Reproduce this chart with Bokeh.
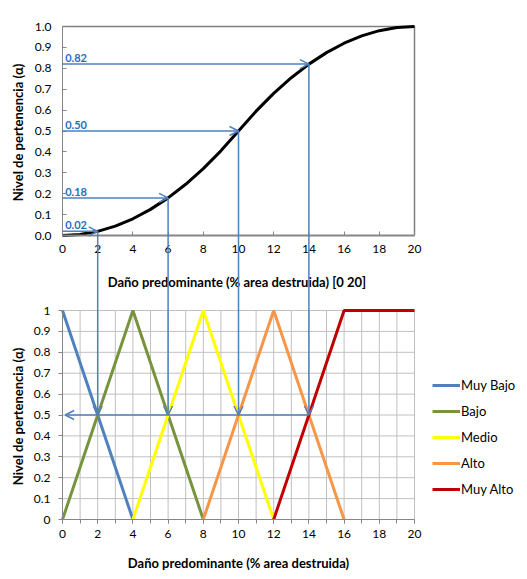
import math
from bokeh.plotting import figure
from bokeh.models import (Range1d, LinearAxis, FixedTicker,
                          PrintfTickFormatter, Legend, LegendItem, Arrow, OpenHead,
                          ColumnDataSource, Label)
from bokeh.core.properties import value
from bokeh.embed import file_html
from bokeh.resources import INLINE

# ---- data ----
# top panel: membership curve (x = % area destroyed)
curve_x = [0, 1, 2, 3, 4, 5, 6, 7, 8, 9, 10, 11, 12, 13, 14, 15, 16, 17, 18, 19, 20]
curve_y = [0.0, 0.005, 0.02, 0.045, 0.08, 0.125, 0.18, 0.245, 0.32, 0.405, 0.5,
           0.595, 0.68, 0.755, 0.82, 0.875, 0.92, 0.955, 0.98, 0.995, 1.0]
# marked points
mark_x = [2, 6, 10, 14]
mark_y = [0.02, 0.18, 0.50, 0.82]
mark_lbl = ["0.02", "0.18", "0.50", "0.82"]
cut_level = 0.5

# bottom panel: fuzzy sets
sets = ["Muy Bajo", "Bajo", "Medio", "Alto", "Muy Alto"]
set_x = [[0, 4], [0, 4, 8], [4, 8, 12], [8, 12, 16], [12, 16, 20]]
set_y = [[1, 0], [0, 1, 0], [0, 1, 0], [0, 1, 0], [0, 1, 1]]
set_colors = ["#4F81BD", "#77933C", "#FFFF00", "#F79646", "#C00000"]

x_ticks = list(range(0, 21, 2))
x_minor = list(range(0, 21))
y_ticks = [round(i * 0.1, 1) for i in range(11)]
x_title_top = "Daño predominante (% area destruida)  [0 20]"
x_title_bot = "Daño predominante (% area destruida)"
y_title = "Nivel de pertenencia  (α)"

FONT = "Lato"
AX_GRAY = "#868686"
ARROW = "#4F81BD"
LBL_BLUE = "#1F70C1"

# ---- layout (the frame fills the whole canvas; axes are placed inside it) ----
W, H = 527, 578
X0_PX = 62.0        # page x of value 0
BOT0_PX = 519.0     # page y of 0 in the bottom panel
TOP1_PX = 26.0      # page y of 1 in the top panel
x_px = 17.6         # pixels per x unit
y_px = 209.0        # pixels per y unit
LEG_X, LEG_TOP, LEG_ROW = 432, 372, 26

x_range = Range1d(-X0_PX / x_px, (W - X0_PX) / x_px)
y_range = Range1d(-(H - BOT0_PX) / y_px, BOT0_PX / y_px)
top_end = 1.0 + TOP1_PX / y_px
top_range = Range1d(top_end - H / y_px, top_end)
offset = (BOT0_PX - TOP1_PX) / y_px - 1.0   # top panel value v -> bottom-range value v+offset

p = figure(width=W, height=H, output_backend="svg", toolbar_location=None,
           x_range=x_range, y_range=y_range, x_axis_type=None, y_axis_type=None,
           min_border=0)
p.extra_y_ranges = {"top": top_range}
p.outline_line_color = None
p.background_fill_color = "white"
p.border_fill_color = "white"


def make_axis(side, rng, bounds, ticker, tick_in, tick_out, standoff, fmt=None):
    kw = dict(fixed_location=0, bounds=bounds, ticker=ticker)
    if rng:
        kw["y_range_name"] = rng
    if fmt:
        kw["formatter"] = fmt
    ax = LinearAxis(**kw)
    ax.axis_line_color = AX_GRAY
    ax.major_tick_line_color = AX_GRAY
    ax.minor_tick_line_color = AX_GRAY
    ax.major_tick_in = tick_in
    ax.major_tick_out = tick_out
    ax.minor_tick_in = tick_in
    ax.minor_tick_out = tick_out
    ax.major_label_standoff = standoff
    ax.major_label_text_font = FONT
    ax.major_label_text_font_size = "12px"
    ax.major_label_text_color = "#000000"
    p.add_layout(ax, side)
    return ax


# ---- bottom panel axes ----
xa = make_axis("below", None, (0, 20), FixedTicker(ticks=x_ticks, minor_ticks=x_minor), 0, 4, 6)
ya = make_axis("left", None, (0, 1), FixedTicker(ticks=y_ticks), 0, 4, 8,
               PrintfTickFormatter(format="%.1f"))
ya.major_label_overrides = {0: "0", 1: "1"}

# grid of bottom panel
p.segment(x0=x_minor, y0=[0] * len(x_minor), x1=x_minor, y1=[1] * len(x_minor),
          line_color="#C0C0C0", line_width=1, level="underlay")
p.segment(x0=[0] * len(y_ticks), y0=y_ticks, x1=[20] * len(y_ticks), y1=y_ticks,
          line_color="#C0C0C0", line_width=1, level="underlay")

# ---- top panel axes ----
txa = make_axis("below", "top", (0, 20), FixedTicker(ticks=x_ticks), 4, 0, 9)
tya = make_axis("left", "top", (0, 1), FixedTicker(ticks=y_ticks), 4, 0, 11,
                PrintfTickFormatter(format="%.1f"))
txa.axis_line_width = 2

# box of the top panel
p.line(x=[0, 20, 20], y=[1, 1, 0], y_range_name="top", line_color="#7F7F7F", line_width=1.5)


# axis titles
def title(text, x, y, rng, xo, yo, angle=0.0):
    kw = dict(x=x, y=y, x_offset=xo, y_offset=yo, text=text, angle=angle,
              text_font=FONT, text_font_size="13px", text_font_style="bold",
              text_color="#000000", text_align="center", text_baseline="middle")
    if rng:
        kw["y_range_name"] = rng
    p.add_layout(Label(**kw))


title(x_title_top, 10, 0, "top", 0, -46)
title(x_title_bot, 10, 0, None, 0, -43)
title(y_title, 0, 0.5, "top", -45, 0, math.pi / 2)
title(y_title, 0, 0.5, None, -45, 0, math.pi / 2)

# curve
p.line(x=curve_x, y=curve_y, y_range_name="top", line_color="black", line_width=3)

# ---- bottom panel series ----
items = []
for name, xs, ys, c in zip(sets, set_x, set_y, set_colors):
    r = p.line(x=xs, y=ys, line_color=c, line_width=3)
    items.append(LegendItem(label=name, renderers=[r]))

# ---- arrows ----
head = dict(size=9, line_color=ARROW, line_width=1.5)
# horizontal arrows in top panel: from y axis to the curve
src_h = ColumnDataSource(dict(x0=[0] * len(mark_x), y0=mark_y, x1=mark_x, y1=mark_y))
p.add_layout(Arrow(source=src_h, x_start="x0", y_start="y0", x_end="x1", y_end="y1",
                   y_range_name="top", line_color=ARROW, line_width=1.5,
                   end=OpenHead(**head)))
# vertical arrows from the curve down to the cut level in the bottom panel
src_v = ColumnDataSource(dict(x0=mark_x, y0=[v + offset for v in mark_y],
                              x1=mark_x, y1=[cut_level] * len(mark_x)))
p.add_layout(Arrow(source=src_v, x_start="x0", y_start="y0", x_end="x1", y_end="y1",
                   line_color=ARROW, line_width=1.5, end=OpenHead(**head)))
# horizontal arrow at the cut level back to the y axis
p.add_layout(Arrow(x_start=mark_x[-1], y_start=cut_level, x_end=0.15, y_end=cut_level,
                   line_color=ARROW, line_width=1.5, end=OpenHead(**head)))

# value labels
p.text(x=[0.15] * len(mark_y), y=mark_y, text=mark_lbl, y_range_name="top",
       text_font=value(FONT), text_font_size="11px", text_font_style="bold",
       text_color=LBL_BLUE, text_baseline="bottom", text_align="left", y_offset=-2)

# ---- legend (location = bottom-left corner, measured from the canvas bottom) ----
leg = Legend(items=items, location=(LEG_X, H - LEG_TOP - LEG_ROW * len(items)),
             orientation="vertical",
             label_text_font=FONT, label_text_font_size="13px",
             label_text_color="#000000", glyph_width=28, glyph_height=LEG_ROW,
             label_height=LEG_ROW, label_standoff=1, spacing=0, padding=0, margin=0,
             border_line_color=None, background_fill_alpha=0)
p.add_layout(leg, "center")

open("out.html", "w").write(file_html(p, INLINE))
